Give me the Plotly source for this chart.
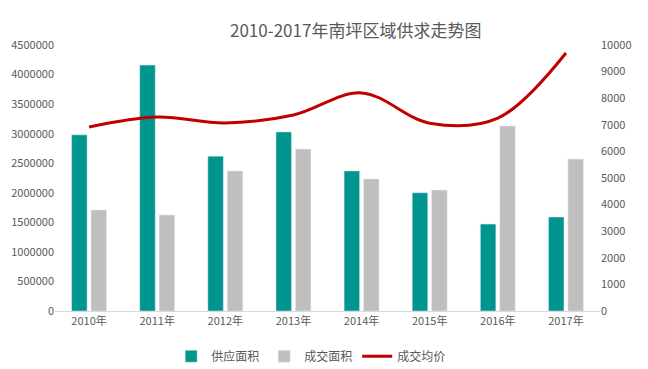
import plotly.graph_objects as go

years = ["2010年", "2011年", "2012年", "2013年", "2014年", "2015年", "2016年", "2017年"]
supply_area = [2980000, 4160000, 2620000, 3030000, 2370000, 2000000, 1470000, 1590000]
deal_area = [1710000, 1625000, 2370000, 2740000, 2235000, 2045000, 3130000, 2570000]
avg_price = [6920, 7290, 7070, 7370, 8200, 7060, 7250, 9700]

font_family = "Noto Sans CJK SC, Microsoft YaHei, sans-serif"
tick_color = "#595959"

fig = go.Figure()
fig.add_trace(go.Bar(x=years, y=supply_area, name="供应面积", marker_color="#00968F", yaxis="y"))
fig.add_trace(go.Bar(x=years, y=deal_area, name="成交面积", marker_color="#BFBFBF", yaxis="y"))
fig.add_trace(go.Scatter(x=years, y=avg_price, name="成交均价", mode="lines",
                         line=dict(color="#C00000", width=3, shape="spline", smoothing=1.0),
                         yaxis="y2"))

# page body has an 8px default margin, so the figure is 8px smaller
fig.update_layout(
    width=640, height=361,
    margin=dict(l=47, r=48, t=37, b=58, autoexpand=False),
    paper_bgcolor="white", plot_bgcolor="white",
    font=dict(family=font_family, size=11, color=tick_color),
    barmode="group", bargap=0.43, bargroupgap=0.2,
    showlegend=True,
    legend=dict(orientation="h", x=0.47, xanchor="center", y=-0.17, yanchor="middle",
                font=dict(size=12, color=tick_color), itemwidth=30,
                bgcolor="rgba(0,0,0,0)"),
    xaxis=dict(showgrid=False, showline=True, linecolor="#D9D9D9", linewidth=1,
               ticks="", tickfont=dict(size=11, color=tick_color), automargin=False),
    yaxis=dict(range=[0, 4500000], dtick=500000, tickformat="d", showgrid=False,
               zeroline=False, showline=False, ticks="", automargin=False,
               tickfont=dict(size=11, color=tick_color)),
    yaxis2=dict(range=[0, 10000], dtick=1000, tickformat="d", overlaying="y", side="right",
                showgrid=False, zeroline=False, showline=False, ticks="", automargin=False,
                tickfont=dict(size=11, color=tick_color)),
    annotations=[dict(text="2010-2017年南坪区域供求走势图", xref="paper", yref="paper",
                      x=0.5505, y=(311 - 30) / 266, xanchor="center", yanchor="middle",
                      showarrow=False, font=dict(size=17, color=tick_color, family=font_family))],
)

fig.write_html("out.html")
